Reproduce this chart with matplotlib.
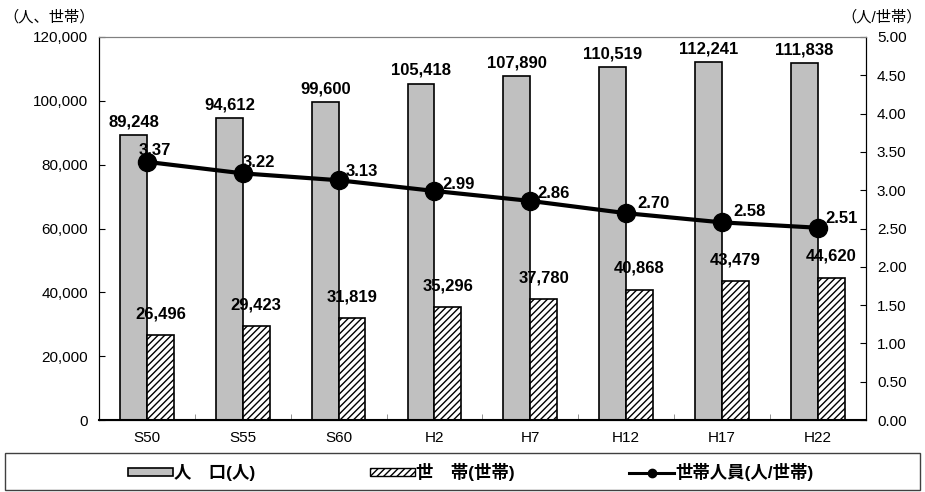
import matplotlib
matplotlib.use("Agg")
import matplotlib.pyplot as plt
import numpy as np
from matplotlib.lines import Line2D
from matplotlib.patches import Patch, Rectangle
from matplotlib.ticker import FuncFormatter

plt.rcParams["font.family"] = ["Liberation Sans", "Noto Sans CJK JP"]
plt.rcParams["hatch.linewidth"] = 1.0

years = ["S50", "S55", "S60", "H2", "H7", "H12", "H17", "H22"]
population = [89248, 94612, 99600, 105418, 107890, 110519, 112241, 111838]
households = [26496, 29423, 31819, 35296, 37780, 40868, 43479, 44620]
per_household = [3.37, 3.22, 3.13, 2.99, 2.86, 2.70, 2.58, 2.51]

# label offsets for the persons-per-household values (points)
line_dx = [6, 11.5, 17, 17, 16.5, 20, 19.5, 17]
line_dy = [8, 7.5, 6.5, 5, 5.5, 7, 8, 7]

fig = plt.figure(figsize=(9.25, 4.92), dpi=100)
ax = fig.add_axes([0.107, 0.1463, 0.829, 0.7785])
ax2 = ax.twinx()

x = np.arange(len(years))
w = 0.28
ax.bar(x - w / 2, population, width=w, color="#C0C0C0", edgecolor="black", linewidth=1.2, zorder=2)
ax.bar(x + w / 2, households, width=w, color="white", edgecolor="black", linewidth=1.2,
       hatch="/////", zorder=2)

for i, v in enumerate(population):
    ax.annotate(f"{v:,}", (x[i] - w / 2, v), xytext=(0, 4), textcoords="offset points",
                ha="center", va="bottom", fontsize=12, fontweight="bold")
for i, v in enumerate(households):
    ax.annotate(f"{v:,}", (x[i] + w / 2, v), xytext=(0, 10), textcoords="offset points",
                ha="center", va="bottom", fontsize=12, fontweight="bold")

ax2.plot(x, per_household, color="black", linewidth=3, marker="o", markersize=13, zorder=3)
for i, v in enumerate(per_household):
    ax2.annotate(f"{v:.2f}", (x[i], v), xytext=(line_dx[i], line_dy[i]), textcoords="offset points",
                 ha="center", va="center", fontsize=12, fontweight="bold")

ax.set_xlim(-0.5, len(years) - 0.5)
ax.set_ylim(0, 120000)
ax.set_yticks(np.arange(0, 120001, 20000))
ax.yaxis.set_major_formatter(FuncFormatter(lambda v, p: f"{int(v):,}"))
ax2.set_ylim(0, 5)
ax2.set_yticks(np.arange(0, 5.01, 0.5))
ax2.yaxis.set_major_formatter(FuncFormatter(lambda v, p: f"{v:.2f}"))

ax.set_xticks(x, years)
ax.set_xticks(np.arange(-0.5, len(years), 1), minor=True)
ax.tick_params(axis="x", which="major", length=0, labelsize=11, pad=8)
ax.tick_params(axis="x", which="minor", direction="in", length=4, color="#808080")
ax.tick_params(axis="y", direction="in", length=4, labelsize=11, pad=8)
ax2.tick_params(axis="y", direction="in", length=4, labelsize=11, pad=8)

for a in (ax, ax2):
    a.spines["top"].set_color("#808080")
    a.spines["left"].set_color("black")
    a.spines["right"].set_color("black")
    a.spines["bottom"].set_color("black")
ax.spines["bottom"].set_linewidth(1.5)

fig.text(0.004, 0.965, "（人、世帯）", fontsize=11, ha="left", va="center")
fig.text(0.997, 0.965, "（人/世帯）", fontsize=11, ha="right", va="center")

handles = [
    Patch(facecolor="#C0C0C0", edgecolor="black", linewidth=1.2),
    Patch(facecolor="white", edgecolor="black", linewidth=1.0, hatch="/////"),
    Line2D([0], [0], color="black", linewidth=2.2, marker="o", markersize=6),
]
labels = ["人\u3000口(人)", "世\u3000帯(世帯)", "世帯人員(人/世帯)"]
fig.legend(handles, labels, loc="center", bbox_to_anchor=(0.509, 0.041), ncol=3, frameon=False,
           prop={"size": 12.5, "weight": "bold"}, handlelength=2.6, handleheight=0.35,
           handletextpad=0.05, columnspacing=6.6)
fig.add_artist(Rectangle((0.0054, 0.004), 0.989, 0.075, transform=fig.transFigure,
                         fill=False, edgecolor="#404040", linewidth=1))

fig.savefig("out.png", dpi=100)
